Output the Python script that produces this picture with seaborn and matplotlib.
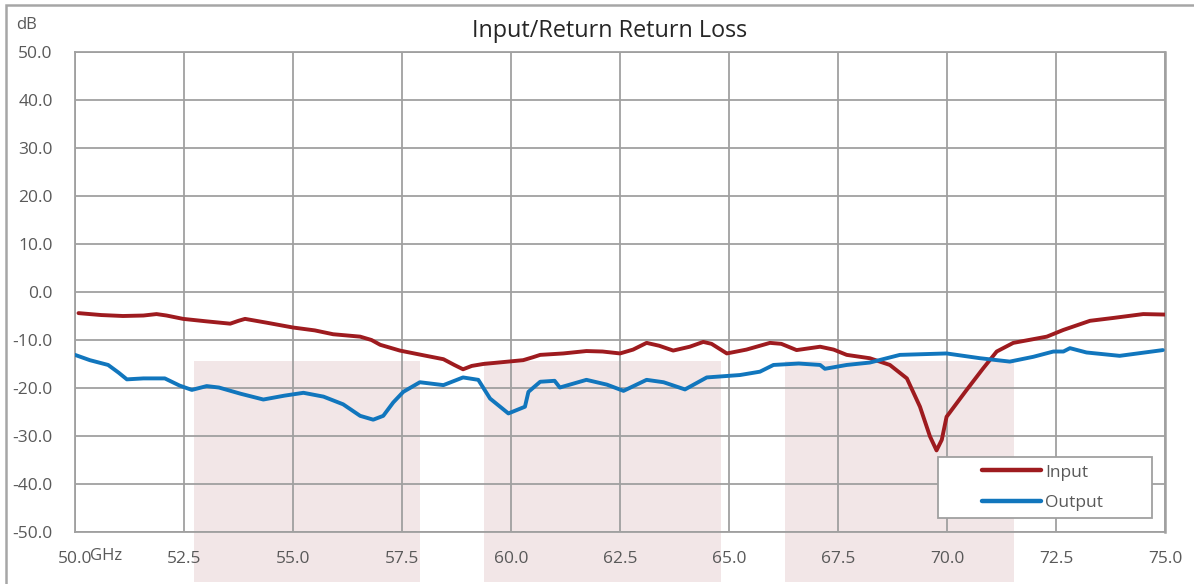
import numpy as np
import pandas as pd
import matplotlib
matplotlib.use("Agg")
import matplotlib.pyplot as plt
from matplotlib.patches import Rectangle
from matplotlib.lines import Line2D
import seaborn as sns

# ---- data ----
input_freq = [50.08, 50.6, 51.1, 51.57, 51.87, 52.1, 52.48, 53.0, 53.56, 53.75, 53.9, 54.4, 55.0,
              55.5, 55.92, 56.54, 56.8, 57.0, 57.45, 58.0, 58.45, 58.7, 58.9, 59.1, 59.36, 60.28,
              60.5, 60.67, 61.2, 61.73, 62.1, 62.5, 62.8, 63.11, 63.4, 63.72, 64.1, 64.41, 64.6,
              64.95, 65.4, 65.94, 66.2, 66.55, 67.09, 67.4, 67.7, 68.23, 68.69, 69.08, 69.38,
              69.61, 69.76, 69.88, 69.99, 70.45, 70.83, 71.14, 71.52, 72.29, 72.67, 73.28, 73.82,
              74.5, 75.0]
input_db = [-4.4, -4.8, -5.0, -4.9, -4.6, -4.9, -5.6, -6.1, -6.6, -6.0, -5.6, -6.4, -7.4,
            -8.0, -8.8, -9.3, -10.0, -11.0, -12.2, -13.2, -14.0, -15.2, -16.1, -15.4, -15.0, -14.2,
            -13.6, -13.1, -12.8, -12.3, -12.4, -12.8, -12.0, -10.6, -11.2, -12.2, -11.4, -10.4, -10.8,
            -12.8, -12.0, -10.6, -10.8, -12.1, -11.4, -12.0, -13.1, -13.8, -15.2, -18.0, -23.9,
            -30.1, -33.0, -30.8, -26.0, -20.4, -15.9, -12.4, -10.6, -9.3, -7.9, -6.0, -5.4,
            -4.6, -4.7]

output_freq = [50.0, 50.34, 50.76, 51.0, 51.19, 51.57, 52.06, 52.4, 52.68, 53.02, 53.3, 53.8, 54.32,
               54.8, 55.24, 55.7, 56.15, 56.54, 56.84, 57.07, 57.3, 57.53, 57.91, 58.45, 58.9,
               59.25, 59.52, 59.94, 60.32, 60.4, 60.67, 61.0, 61.12, 61.73, 62.2, 62.58, 63.11,
               63.5, 63.99, 64.49, 65.25, 65.71, 66.02, 66.6, 67.09, 67.2, 67.7, 68.23, 68.92,
               69.99, 70.76, 71.44, 71.98, 72.44, 72.67, 72.82, 73.2, 73.96, 74.95]
output_db = [-13.1, -14.2, -15.2, -16.8, -18.2, -18.0, -18.0, -19.5, -20.4, -19.6, -19.9, -21.2, -22.4,
             -21.6, -21.0, -21.8, -23.4, -25.8, -26.6, -25.8, -23.0, -20.8, -18.8, -19.4, -17.8,
             -18.3, -22.2, -25.3, -23.9, -20.8, -18.7, -18.5, -19.9, -18.3, -19.3, -20.6, -18.3,
             -18.8, -20.3, -17.8, -17.3, -16.6, -15.2, -14.9, -15.2, -16.0, -15.2, -14.7, -13.1,
             -12.8, -13.8, -14.5, -13.5, -12.4, -12.4, -11.7, -12.6, -13.3, -12.1]

band_start = [52.73, 59.37, 66.28]
band_end = [57.91, 64.81, 71.54]
band_top = -14.4

x_ticks = [50.0, 52.5, 55.0, 57.5, 60.0, 62.5, 65.0, 67.5, 70.0, 72.5, 75.0]
y_ticks = [-50, -40, -30, -20, -10, 0, 10, 20, 30, 40, 50]

title = "Input/Return Return Loss"
series_names = ["Input", "Output"]
colors = {"Input": "#9E1B1F", "Output": "#1176BD"}

df = pd.concat([
    pd.DataFrame({"GHz": input_freq, "dB": input_db, "series": "Input"}),
    pd.DataFrame({"GHz": output_freq, "dB": output_db, "series": "Output"}),
], ignore_index=True)

# ---- figure ----
sns.set_style("white")
plt.rcParams['font.family'] = ['Open Sans', 'DejaVu Sans']

W, H = 1194, 584
fig = plt.figure(figsize=(W / 100, H / 100), dpi=100)
ax_l, ax_r, ax_t, ax_b = 75, 1165, 52, 532
ax = fig.add_axes([ax_l / W, 1 - ax_b / H, (ax_r - ax_l) / W, (ax_b - ax_t) / H])

grid_c = "#A0A0A0"
text_c = "#595959"

# shaded bands (extend below plot)
for s, e in zip(band_start, band_end):
    ax.add_patch(Rectangle((s, -60.5), e - s, band_top + 60.5, facecolor="#F2E6E7",
                           edgecolor="none", clip_on=False, zorder=0.2))

sns.lineplot(data=df, x="GHz", y="dB", hue="series", palette=colors, estimator=None,
             sort=False, linewidth=2.8, ax=ax, legend=False, zorder=3)
for ln in ax.lines:
    ln.set_solid_joinstyle("round")
    ln.set_solid_capstyle("round")

ax.set_xlim(50, 75)
ax.set_ylim(-50, 50)
ax.set_xticks(x_ticks)
ax.set_yticks(y_ticks)
ax.set_xticklabels([f"{v:.1f}" for v in x_ticks])
ax.set_yticklabels([f"{v:.1f}" for v in y_ticks])
ax.tick_params(axis="both", length=0, labelsize=12.5, colors=text_c)
ax.tick_params(axis="y", pad=16)
ax.tick_params(axis="x", pad=14)
ax.set_xlabel("")
ax.set_ylabel("")
ax.set_axisbelow(True)
ax.grid(True, color=grid_c, linewidth=1.3)
for sp in ax.spines.values():
    sp.set_visible(True)
    sp.set_color(grid_c)
    sp.set_linewidth(1.3)
ax.spines["right"].set_linewidth(1.8)
ax.patch.set_alpha(0)

# legend
handles = [Line2D([], [], color=colors[n], linewidth=3.2, solid_capstyle="round") for n in series_names]
leg_l, leg_r, leg_t, leg_b = 938, 1152, 457, 518
ax.add_patch(Rectangle(((leg_l - ax_l) / (ax_r - ax_l), (ax_b - leg_b) / (ax_b - ax_t)),
                       (leg_r - leg_l) / (ax_r - ax_l), (leg_b - leg_t) / (ax_b - ax_t),
                       transform=ax.transAxes, facecolor="white", edgecolor=grid_c,
                       linewidth=1.3, zorder=4))
leg = ax.legend(handles, series_names, loc="center left",
                bbox_to_anchor=((982 - ax_l) / (ax_r - ax_l), (ax_b - (leg_t + leg_b) / 2) / (ax_b - ax_t)),
                frameon=False, fontsize=12.5, handlelength=3.4, handletextpad=0.25,
                labelspacing=0.8, borderpad=0, borderaxespad=0)
for t in leg.get_texts():
    t.set_color(text_c)
leg.set_zorder(5)

# texts
fig.text(610 / W, 1 - 31 / H, title, ha="center", va="center", fontsize=16.8, color="#262626")
fig.text(16 / W, 1 - 25 / H, "dB", ha="left", va="center", fontsize=12, color=text_c)
fig.text(90 / W, 1 - 556 / H, "GHz", ha="left", va="center", fontsize=12, color=text_c)

# outer border (top and left visible)
fig.patches.append(Rectangle((6 / W, -0.05), 1.2, 1 - 5 / H + 0.05, transform=fig.transFigure,
                             facecolor="none", edgecolor="#A6A6A6", linewidth=1.8, zorder=-1))

fig.savefig("out.png", dpi=100)
